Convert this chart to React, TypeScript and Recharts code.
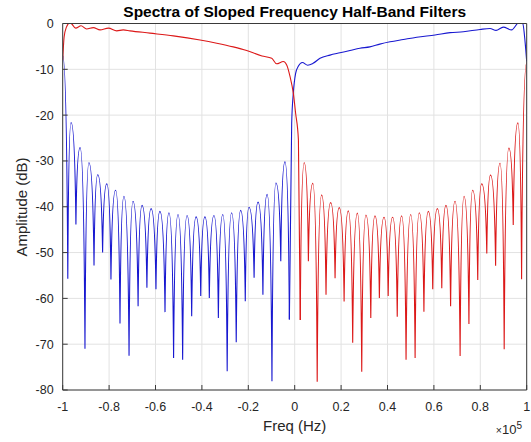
import React from "react"
import { LineChart, Line, XAxis, YAxis, CartesianGrid } from "recharts"

// frequency in units of 1e5 Hz, amplitude in dB

// blue filter: stopband sidelobes (left half), alternating lobe tops / nulls
const blueStopFreq = [
  -1.0, -0.978, -0.964, -0.943, -0.925, -0.904, -0.887, -0.865, -0.849, -0.828, -0.81, -0.792, -0.772,
  -0.753, -0.736, -0.714, -0.697, -0.675, -0.658, -0.637, -0.619, -0.598, -0.581, -0.559, -0.542, -0.522,
  -0.503, -0.483, -0.464, -0.444, -0.425, -0.405, -0.387, -0.368, -0.348, -0.329, -0.31, -0.291, -0.272,
  -0.252, -0.233, -0.213, -0.197, -0.175, -0.158, -0.137, -0.119, -0.098, -0.081, -0.06, -0.042, -0.023,
]
const blueStopDb = [
  -7, -55.7, -21.6, -43.9, -27.1, -71, -30.4, -52.8, -33, -50, -35, -55.9, -36.4, -65.5, -37.7, -72.5,
  -38.8, -61.7, -39.7, -57.7, -40.4, -58, -41, -63, -41.3, -73, -41.7, -73.4, -41.9, -63.9, -42.2, -59.5,
  -42.2, -59.9, -41.9, -64.3, -41.7, -75.9, -41.3, -69.6, -40.8, -60.6, -40.1, -55.5, -39, -59.2, -37.3,
  -78.1, -34.8, -51.9, -30.2, -64.6,
]
// blue filter: transition + passband (right half)
const bluePassFreq = [
  -0.023, -0.013, -0.006, 0.004, 0.016, 0.033, 0.056, 0.079, 0.109, 0.152, 0.195, 0.238, 0.281, 0.324,
  0.367, 0.411, 0.468, 0.526, 0.605, 0.67, 0.727, 0.799, 0.842, 0.868, 0.899, 0.935, 0.968, 0.983, 0.993, 1.0,
]
const bluePassDb = [
  -64.6, -21.8, -15.2, -10.9, -9.3, -8.5, -9.1, -8.7, -7.6, -6.9, -6.4, -5.9, -5.4, -5.1, -4.5, -4.0, -3.5,
  -3.0, -2.5, -2.0, -1.8, -1.3, -1.1, -1.5, -0.8, -1.4, 0.3, 0, -4, -8.3,
]

// red filter: passband (left half) + transition
const redPassFreq = [
  -1.0, -0.994, -0.984, -0.968, -0.944, -0.921, -0.897, -0.868, -0.839, -0.803, -0.767, -0.739, -0.71,
  -0.624, -0.523, -0.408, -0.336, -0.265, -0.207, -0.141, -0.099, -0.078, -0.049, -0.034, -0.02, -0.006,
  0.004, 0.016, 0.024,
]
const redPassDb = [
  -8, -3, -0.8, 0.2, -1.0, -0.5, -1.2, -0.9, -1.4, -1.0, -1.6, -1.4, -1.6, -2.1, -2.7, -3.6, -4.3, -5.1,
  -5.9, -7.1, -7.6, -8.8, -8.3, -9.1, -11.6, -15.2, -19.6, -25.4, -64.7,
]
// red filter: stopband sidelobes (right half)
const redStopFreq = [
  0.024, 0.041, 0.059, 0.078, 0.097, 0.116, 0.135, 0.155, 0.174, 0.192, 0.213, 0.231, 0.25, 0.27, 0.289,
  0.307, 0.328, 0.346, 0.365, 0.385, 0.403, 0.422, 0.442, 0.461, 0.48, 0.5, 0.519, 0.537, 0.557, 0.576,
  0.595, 0.615, 0.634, 0.652, 0.672, 0.691, 0.713, 0.73, 0.751, 0.767, 0.789, 0.806, 0.828, 0.844, 0.866,
  0.885, 0.903, 0.923, 0.942, 0.962, 0.978, 1.0,
]
const redStopDb = [
  -64.7, -30.4, -51.9, -34.9, -78.2, -37.4, -59.2, -39.1, -55.6, -40.2, -60.7, -40.9, -69.7, -41.4, -76,
  -41.8, -64.3, -42, -59.9, -42.3, -59.5, -42.3, -64, -42, -73.4, -41.7, -73, -41.3, -62.9, -41, -58, -40.4,
  -57.8, -39.7, -61.7, -38.8, -72.6, -37.7, -65.6, -36.4, -56, -35, -50.2, -33.1, -52.9, -30.5, -71.1,
  -27.2, -44, -21.7, -55.8, -8.5,
]

const freqTicks = [-1, -0.8, -0.6, -0.4, -0.2, 0, 0.2, 0.4, 0.6, 0.8, 1]
const dbTicks = [-80, -70, -60, -50, -40, -30, -20, -10, 0]

const BLUE = "#1818d0"
const RED = "#dc1818"
const AXIS = "#3a3a3a"
const FONT = "'Liberation Sans', Arial, Helvetica, sans-serif"

const zip = (f: number[], d: number[]) => f.map((x, i) => ({ f: x, db: d[i] }))

// curve for sidelobes: sharp cusps at nulls, rounded lobe tops
function lobeCurve(context: any) {
  let px = 0
  let py = 0
  let first = true
  return {
    areaStart() {},
    areaEnd() {},
    lineStart() {
      first = true
    },
    lineEnd() {},
    point(x: number, y: number) {
      x = +x
      y = +y
      if (first) {
        context.moveTo(x, y)
        first = false
      } else {
        const nullIsPrev = py > y
        const nx = nullIsPrev ? px : x
        const tx = nullIsPrev ? x : px
        const cx = nx + 0.25 * (tx - nx)
        const cy = Math.min(py, y)
        context.quadraticCurveTo(cx, cy, x, y)
      }
      px = x
      py = y
    },
  }
}

export default function App() {
  const blueStop = zip(blueStopFreq, blueStopDb)
  const bluePass = zip(bluePassFreq, bluePassDb)
  const redPass = zip(redPassFreq, redPassDb)
  const redStop = zip(redStopFreq, redStopDb)

  const tickStyle = { fill: "#262626", fontSize: 12.5, fontFamily: FONT }

  return (
    <div style={{ position: "fixed", left: 0, top: 0, width: 531, height: 442, background: "#fff" }}>
      <LineChart width={531} height={442} margin={{ top: 22.5, right: 3.3, bottom: 0, left: 0 }}>
        <CartesianGrid stroke="#e2e2e2" />
        <XAxis
          type="number"
          dataKey="f"
          domain={[-1, 1]}
          ticks={freqTicks}
          allowDataOverflow
          interval={0}
          height={52}
          tickSize={-5}
          tickMargin={17}
          stroke={AXIS}
          tick={tickStyle}
        />
        <XAxis
          xAxisId="top"
          orientation="top"
          type="number"
          dataKey="f"
          domain={[-1, 1]}
          ticks={freqTicks}
          allowDataOverflow
          interval={0}
          height={1}
          tickSize={-5}
          tick={false}
          stroke={AXIS}
        />
        <YAxis
          type="number"
          domain={[-80, 0]}
          ticks={dbTicks}
          allowDataOverflow
          interval={0}
          width={62.7}
          tickSize={-5}
          tickMargin={14}
          stroke={AXIS}
          tick={tickStyle}
        />
        <YAxis
          yAxisId="right"
          orientation="right"
          type="number"
          domain={[-80, 0]}
          ticks={dbTicks}
          allowDataOverflow
          interval={0}
          width={1}
          tickSize={-5}
          tick={false}
          stroke={AXIS}
        />
        <Line data={blueStop} dataKey="db" type={lobeCurve as any} stroke={BLUE} strokeWidth={1.1} dot={false} activeDot={false} isAnimationActive={false} />
        <Line data={bluePass} dataKey="db" type="monotone" stroke={BLUE} strokeWidth={1.1} dot={false} activeDot={false} isAnimationActive={false} />
        <Line data={redPass} dataKey="db" type="monotone" stroke={RED} strokeWidth={1.1} dot={false} activeDot={false} isAnimationActive={false} />
        <Line data={redStop} dataKey="db" type={lobeCurve as any} stroke={RED} strokeWidth={1.1} dot={false} activeDot={false} isAnimationActive={false} />
      </LineChart>
      <svg
        width={531}
        height={442}
        style={{ position: "absolute", left: 0, top: 0, pointerEvents: "none" }}
        fontFamily={FONT}
      >
        <text x={294.7} y={16.5} textAnchor="middle" fontSize={15.5} fontWeight="bold" fill="#000">
          Spectra of Sloped Frequency Half-Band Filters
        </text>
        <text x={294.7} y={431} textAnchor="middle" fontSize={15} fill="#262626">
          Freq (Hz)
        </text>
        <text transform="translate(27,207) rotate(-90)" textAnchor="middle" fontSize={15} fill="#262626">
          Amplitude (dB)
        </text>
        <text x={522} y={434} textAnchor="end" fontSize={13} fill="#262626">
          <tspan fontSize={10.5}>×</tspan>10<tspan fontSize={10} dy={-5}>5</tspan>
        </text>
      </svg>
    </div>
  )
}
